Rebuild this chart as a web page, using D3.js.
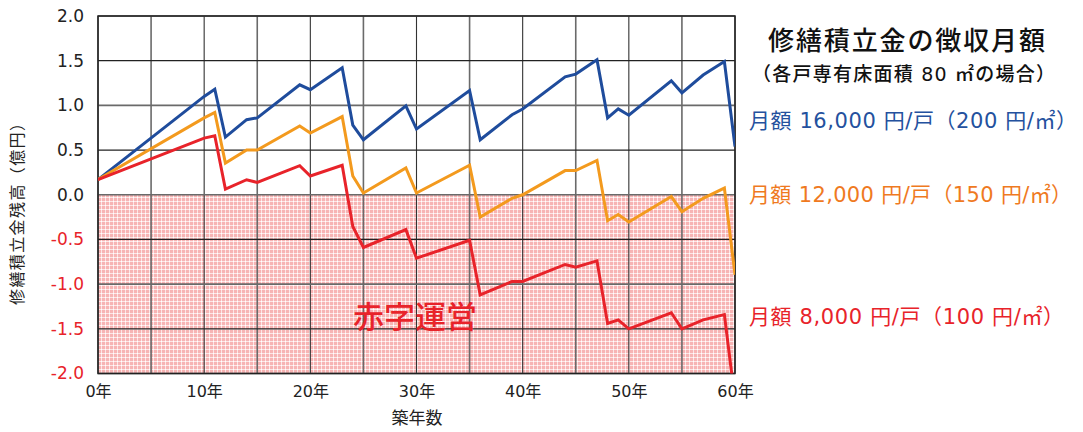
<!DOCTYPE html>
<html>
<head>
<meta charset="utf-8">
<script src="https://cdn.jsdelivr.net/npm/d3@7"></script>
<style>
  html, body { margin: 0; padding: 0; background: #fff; }
  svg { display: block; font-family: "DejaVu Sans", "Noto Sans CJK JP", sans-serif; }
</style>
</head>
<body>
<svg id="chart" width="1083" height="432"></svg>
<script>
// Years at which the balance curves change direction
const years = [0, 10, 11, 12, 14, 15, 19, 20, 23, 24, 25, 29, 30, 35, 36, 39, 40, 44, 45, 47, 48, 49, 50, 54, 55, 57, 59, 60];

// Reserve fund balance (100 million yen) for each monthly contribution level
const balance16000 = [0.17, 1.10, 1.18, 0.645, 0.84, 0.86, 1.23, 1.175, 1.42, 0.78, 0.615, 0.995, 0.735, 1.167, 0.615, 0.895, 0.96, 1.32, 1.35, 1.51, 0.86, 0.96, 0.89, 1.275, 1.14, 1.34, 1.49, 0.54];
const balance12000 = [0.17, 0.86, 0.92, 0.355, 0.50, 0.50, 0.77, 0.69, 0.875, 0.21, 0.02, 0.30, 0.02, 0.33, -0.25, -0.04, 0.0, 0.27, 0.27, 0.385, -0.29, -0.22, -0.305, -0.02, -0.19, -0.04, 0.075, -0.895];
const balance8000  = [0.17, 0.634, 0.66, 0.064, 0.168, 0.138, 0.325, 0.21, 0.33, -0.355, -0.59, -0.39, -0.71, -0.51, -1.12, -0.97, -0.97, -0.78, -0.81, -0.74, -1.44, -1.40, -1.50, -1.32, -1.50, -1.40, -1.34, -2.30];

const xTicks = [0, 10, 20, 30, 40, 50, 60];
const xGrid = [0, 5, 10, 15, 20, 25, 30, 35, 40, 45, 50, 55, 60];
const yTicks = [2.0, 1.5, 1.0, 0.5, 0.0, -0.5, -1.0, -1.5, -2.0];

const seriesLabels = ["月額 16,000 円/戸（200 円/㎡）", "月額 12,000 円/戸（150 円/㎡）", "月額 8,000 円/戸（100 円/㎡）"];
const titleText = "修繕積立金の徴収月額";
const subtitleText = "（各戸専有床面積 80 ㎡の場合）";
const yTitle = "修繕積立金残高（億円）";
const xTitle = "築年数";
const deficitText = "赤字運営";

const series = [
  { values: balance16000, color: "#1f4c9c", labelColor: "#24519e", label: seriesLabels[0], labelY: 128, labelW: 328 },
  { values: balance12000, color: "#f39a1e", labelColor: "#ef7a1f", label: seriesLabels[1], labelY: 202, labelW: 323 },
  { values: balance8000,  color: "#e8232a", labelColor: "#e8232a", label: seriesLabels[2], labelY: 324, labelW: 315 }
];

const svg = d3.select("#chart");
const plotL = 98, plotR = 735, plotT = 16, plotB = 373.5;

const x = d3.scaleLinear().domain([0, 60]).range([plotL, plotR]);
const y = d3.scaleLinear().domain([-2, 2]).range([plotB, plotT]);

// Dotted pink fill for the deficit area
const defs = svg.append("defs");
const pat = defs.append("pattern")
  .attr("id", "deficit")
  .attr("patternUnits", "userSpaceOnUse")
  .attr("width", 4).attr("height", 4);
pat.append("rect").attr("width", 4).attr("height", 4).attr("fill", "#f7b4b4");
pat.append("rect").attr("x", 0).attr("y", 1).attr("width", 4).attr("height", 1).attr("fill", "#fde6e6");
pat.append("rect").attr("x", 1).attr("y", 0).attr("width", 1).attr("height", 4).attr("fill", "#fde6e6");
pat.append("rect").attr("x", 1).attr("y", 1).attr("width", 1).attr("height", 1).attr("fill", "#ffffff");

defs.append("clipPath").attr("id", "plotClip")
  .append("rect")
  .attr("x", plotL).attr("y", plotT)
  .attr("width", plotR - plotL).attr("height", plotB - plotT);

svg.append("rect")
  .attr("x", plotL).attr("y", y(0))
  .attr("width", plotR - plotL).attr("height", y(-2) - y(0))
  .attr("fill", "url(#deficit)");

// Grid lines
const grid = svg.append("g");
grid.selectAll("line.v").data(xGrid).join("line")
  .attr("x1", d => x(d)).attr("x2", d => x(d))
  .attr("y1", plotT).attr("y2", plotB)
  .attr("stroke", d => (d % 10 === 5 ? "#6a6a6a" : "#333"))
  .attr("stroke-width", d => (d % 10 === 5 ? 1.6 : 1.1));
grid.selectAll("line.h").data(yTicks).join("line")
  .attr("x1", plotL).attr("x2", plotR)
  .attr("y1", d => y(d)).attr("y2", d => y(d))
  .attr("stroke", d => (Math.abs(d * 2) % 2 === 1 ? "#222" : "#6a6a6a"))
  .attr("stroke-width", d => (Math.abs(d * 2) % 2 === 1 ? 1.2 : 1.6));

// Plot frame
svg.append("rect")
  .attr("x", plotL).attr("y", plotT)
  .attr("width", plotR - plotL).attr("height", plotB - plotT)
  .attr("fill", "none").attr("stroke", "#222").attr("stroke-width", 1.5);

// Y axis labels
const yAxis = d3.axisLeft(y).tickValues(yTicks).tickSize(0).tickPadding(14)
  .tickFormat(d3.format(".1f"));
const yg = svg.append("g").attr("transform", `translate(${plotL},0)`).call(yAxis);
yg.select(".domain").remove();
yg.selectAll("text")
  .attr("font-size", 17)
  .attr("font-family", "'DejaVu Sans', sans-serif")
  .attr("fill", d => (d < 0 ? "#e8232a" : "#222"))
  .text(d => d3.format(".1f")(d).replace("\u2212", "-"));

// X axis labels
const xAxis = d3.axisBottom(x).tickValues(xTicks).tickSize(0).tickPadding(12)
  .tickFormat(d => d + "年");
const xg = svg.append("g").attr("transform", `translate(0,${plotB})`).call(xAxis);
xg.select(".domain").remove();
xg.selectAll("text")
  .attr("font-size", 16)
  .attr("font-family", "'DejaVu Sans', 'Noto Sans CJK JP', sans-serif")
  .attr("fill", "#222");

// Axis titles
svg.append("text")
  .attr("transform", `translate(23,210) rotate(-90)`)
  .attr("text-anchor", "middle")
  .attr("font-size", 16).attr("fill", "#222")
  .attr("textLength", 190).attr("lengthAdjust", "spacing")
  .text(yTitle);
svg.append("text")
  .attr("x", 417).attr("y", 424)
  .attr("text-anchor", "middle")
  .attr("font-size", 17).attr("fill", "#222")
  .text(xTitle);

// Balance lines
const line = d3.line().x((d, i) => x(years[i])).y(d => y(d));
const lines = svg.append("g").attr("clip-path", "url(#plotClip)");
lines.selectAll("path").data(series).join("path")
  .attr("d", s => line(s.values))
  .attr("fill", "none")
  .attr("stroke", s => s.color)
  .attr("stroke-width", 3)
  .attr("stroke-linejoin", "miter");

// Deficit label
svg.append("text")
  .attr("x", 415).attr("y", 328)
  .attr("text-anchor", "middle")
  .attr("font-size", 31).attr("font-weight", 500)
  .attr("fill", "#e8232a")
  .text(deficitText);

// Legend titles
svg.append("text")
  .attr("x", 768).attr("y", 50)
  .attr("font-size", 26).attr("font-weight", 500).attr("fill", "#111")
  .attr("textLength", 277).attr("lengthAdjust", "spacing")
  .text(titleText);
svg.append("text")
  .attr("x", 752).attr("y", 81)
  .attr("font-size", 19).attr("font-weight", 500).attr("fill", "#111")
  .attr("textLength", 303).attr("lengthAdjust", "spacing")
  .text(subtitleText);

// Series labels
svg.append("g").selectAll("text").data(series).join("text")
  .attr("x", 749).attr("y", s => s.labelY)
  .attr("font-size", 21)
  .attr("fill", s => s.labelColor)
  .attr("textLength", s => s.labelW).attr("lengthAdjust", "spacing")
  .text(s => s.label);
</script>
</body>
</html>
